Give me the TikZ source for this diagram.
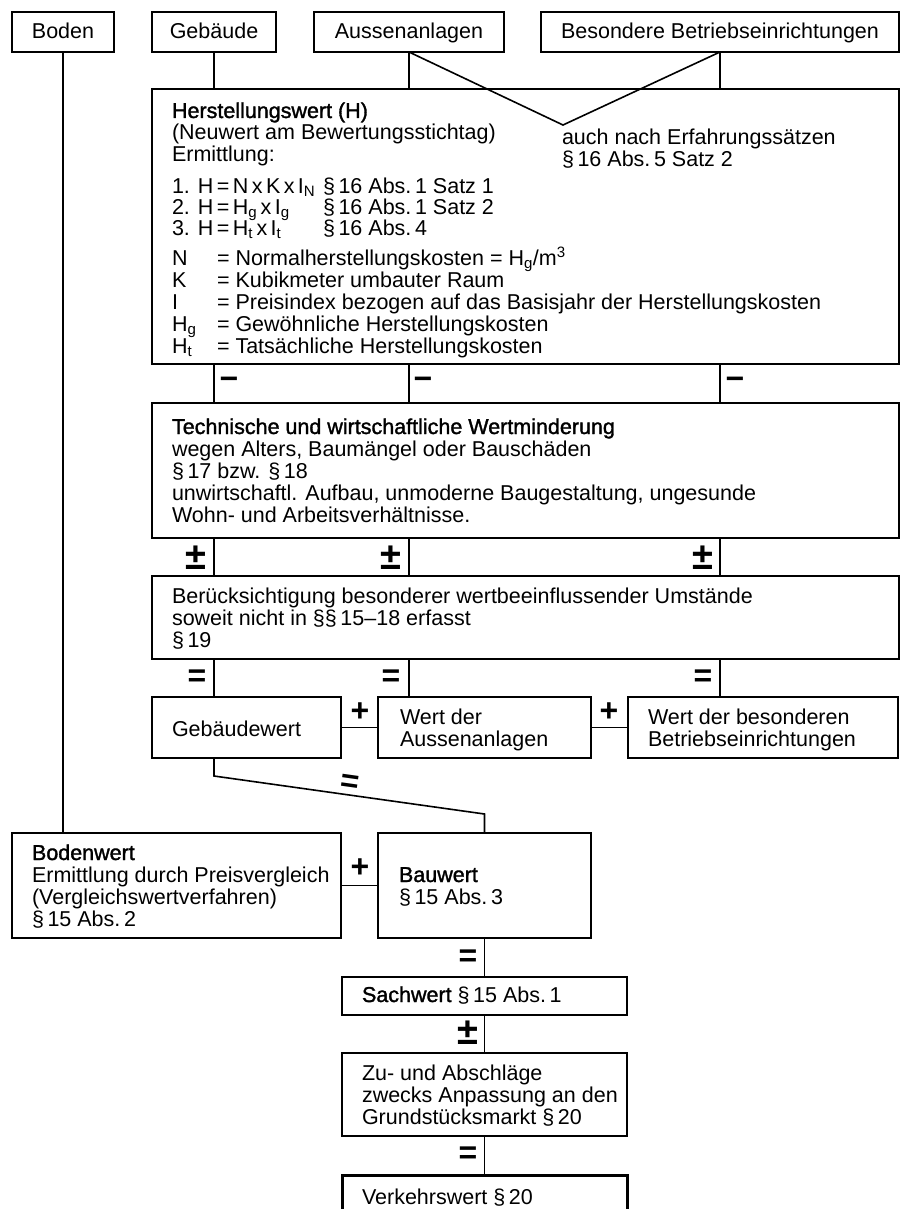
\documentclass[tikz,border=0pt]{standalone}
\usepackage{fontspec}
\setmainfont{Liberation Sans}
\newfontfamily\medfont[FakeBold=1.5]{Liberation Sans}
\newcommand{\tightlns}{\lineskiplimit-100pt\relax\lineskip0pt\relax}
\newcommand{\fsp}{\hspace{0.16em}}
\begin{document}
\begin{tikzpicture}[x=1pt,y=-1pt,
  box/.style={draw, line width=1.6pt, rectangle, inner sep=0pt, outer sep=0pt, anchor=north west},
  thickbox/.style={box, line width=3pt},
  conn/.style={line width=1.6pt},
  txt/.style={anchor=base west, inner sep=0pt, outer sep=0pt, align=left,
    font=\fontsize{21.5}{22}\selectfont\tightlns},
  ctxt/.style={anchor=base, inner sep=0pt, outer sep=0pt, font=\fontsize{21.5}{22}\selectfont},
  sign/.style={inner sep=0pt, outer sep=0pt, anchor=center, font=\fontsize{32}{32}\selectfont\bfseries},
  pmsign/.style={sign, font=\fontsize{38}{38}\selectfont\bfseries},
]
\useasboundingbox (0,0) rectangle (901,1209);
\begin{scope}
\clip (0,0) rectangle (901,1209);
% ---------- boxes ----------
\node[box, minimum width=102pt, minimum height=40pt] (boden) at (12,12) {};
\node[box, minimum width=124pt, minimum height=40pt] (gebaeude) at (152,12) {};
\node[box, minimum width=190pt, minimum height=40pt] (aussen) at (314,12) {};
\node[box, minimum width=358pt, minimum height=40pt] (bes) at (541,12) {};
\node[box, minimum width=747pt, minimum height=275pt] (H) at (152,89) {};
\node[box, minimum width=747pt, minimum height=135pt] (tech) at (152,403) {};
\node[box, minimum width=747pt, minimum height=83pt] (ber) at (152,576) {};
\node[box, minimum width=189pt, minimum height=61pt] (gebwert) at (152,697) {};
\node[box, minimum width=213pt, minimum height=61pt] (wertaus) at (378,697) {};
\node[box, minimum width=270pt, minimum height=61pt] (wertbes) at (628,697) {};
\node[box, minimum width=329pt, minimum height=105pt] (bodenwert) at (12,833) {};
\node[box, minimum width=213pt, minimum height=105pt] (bauwert) at (378,833) {};
\node[box, minimum width=285pt, minimum height=38pt] (sachwert) at (342,977) {};
\node[box, minimum width=285pt, minimum height=83pt] (zu) at (342,1053) {};
\node[thickbox, minimum width=285pt, minimum height=70pt] (verkehr) at (342,1175) {};
% ---------- texts (anchor = baseline of last line) ----------
\node[ctxt] (tboden) at (63,39) {Boden};
\node[ctxt] (tgebaeude) at (214,39) {Gebäude};
\node[ctxt] (taussen) at (409,39) {Aussenanlagen};
\node[ctxt] (tbes) at (720,39) {Besondere Betriebseinrichtungen};
\node[txt] (hT) at (172,162) {{\medfont Herstellungswert (H)}\\(Neuwert am Bewertungsstichtag)\\Ermittlung:};
\node[txt] (auch) at (562,167) {auch nach Erfahrungssätzen\\§\,16 Abs.\,5 Satz 2};
\node[txt] (hF) at (172,235) {1. H\fsp=\fsp N\fsp x\fsp K\fsp x\fsp I\textsubscript{N}\\[-1pt]2. H\fsp=\fsp H\textsubscript{g}\fsp x\fsp I\textsubscript{g}\\[-1pt]3. H\fsp=\fsp H\textsubscript{t}\fsp x\fsp I\textsubscript{t}};
\node[txt] (hP) at (323,235) {§\,16 Abs.\,1 Satz 1\\[-1pt]§\,16 Abs.\,1 Satz 2\\[-1pt]§\,16 Abs.\,4};
\node[txt] (hL) at (172,353) {N\\K\\I\\H\textsubscript{g}\\H\textsubscript{t}};
\node[txt] (hD) at (217,353) {= Normalherstellungskosten = H\textsubscript{g}/m\textsuperscript{3}\\= Kubikmeter umbauter Raum\\= Preisindex bezogen auf das Basisjahr der Herstellungskosten\\= Gewöhnliche Herstellungskosten\\= Tatsächliche Herstellungskosten};
\node[txt] (techT) at (172,522) {{\medfont Technische und wirtschaftliche Wertminderung}\\wegen Alters, Baumängel oder Bauschäden\\§\,17 bzw. §\,18\\unwirtschaftl. Aufbau, unmoderne Baugestaltung, ungesunde\\Wohn- und Arbeitsverhältnisse.};
\node[txt] (berT) at (172,647) {Berücksichtigung besonderer wertbeeinflussender Umstände\\soweit nicht in §§\,15–18 erfasst\\§\,19};
\node[txt] (gebwertT) at (172,736) {Gebäudewert};
\node[txt] (wertausT) at (400,746) {Wert der\\Aussenanlagen};
\node[txt] (wertbesT) at (648,746) {Wert der besonderen\\Betriebseinrichtungen};
\node[txt] (bodenwertT) at (32,926) {{\medfont Bodenwert}\\Ermittlung durch Preisvergleich\\(Vergleichswertverfahren)\\§\,15 Abs.\,2};
\node[txt] (bauwertT) at (399,904) {{\medfont Bauwert}\\§\,15 Abs.\,3};
\node[txt] (sachwertT) at (362,1002) {{\medfont Sachwert} §\,15 Abs.\,1};
\node[txt] (zuT) at (362,1124) {Zu- und Abschläge\\zwecks Anpassung an den\\Grundstücksmarkt §\,20};
\node[txt] (verkehrT) at (362,1204) {Verkehrswert §\,20};
% ---------- connectors ----------
\coordinate (vtip) at (563,125);
\draw[conn] (boden.south) -- (boden.south |- bodenwert.north);
\foreach \n in {gebaeude,aussen,bes}{
  \draw[conn] (\n.south) -- (\n.south |- H.north);
  \draw[conn] (\n.south |- H.south) -- (\n.south |- tech.north);
  \draw[conn] (\n.south |- tech.south) -- (\n.south |- ber.north);
}
\draw[conn] (aussen.south) -- (vtip) -- (bes.south);
\draw[conn] (gebaeude.south |- ber.south) -- (gebaeude.south |- gebwert.north);
\draw[conn] (aussen.south |- ber.south) -- (aussen.south |- wertaus.north);
\draw[conn] (bes.south |- ber.south) -- (bes.south |- wertbes.north);
\draw[conn] (gebwert.east) -- (wertaus.west);
\draw[conn] (wertaus.east) -- (wertbes.west);
\draw[conn] (bodenwert.east) -- (bauwert.west);
\path (gebaeude.south |- gebwert.south) ++(0,18) coordinate (d1);
\path (bauwert.north) ++(0,-19) coordinate (d2);
\draw[conn] (gebaeude.south |- gebwert.south) -- (d1) -- (d2) -- (bauwert.north);
\draw[conn] (bauwert.south) -- (sachwert.north);
\draw[conn] (sachwert.south) -- (zu.north);
\draw[conn] (zu.south) -- (verkehr.north);
% ---------- signs ----------
\node[sign] (m1) at (229,383) {−};
\node[sign] (m2) at (423,383) {−};
\node[sign] (m3) at (735,383) {−};
\node[pmsign] (pm1) at (196,558) {±};
\node[pmsign] (pm2) at (391,558) {±};
\node[pmsign] (pm3) at (703,558) {±};
\node[sign] (e1) at (197,678) {=};
\node[sign] (e2) at (391,678) {=};
\node[sign] (e3) at (703,678) {=};
\node[sign] (p1) at (360,712) {+};
\node[sign] (p2) at (609,712) {+};
\node[sign] (p3) at (360,868) {+};
\node[sign, rotate=-8] (ed) at (350,784) {=};
\node[sign] (e4) at (468,958) {=};
\node[pmsign] (pm4) at (468,1033) {±};
\node[sign] (e5) at (468,1155) {=};
\end{scope}
\end{tikzpicture}
\end{document}
